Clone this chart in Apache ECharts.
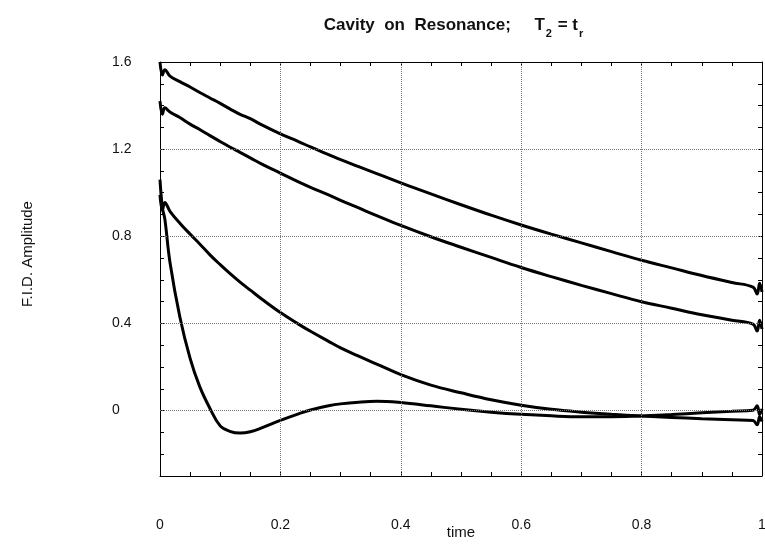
<!DOCTYPE html>
<html>
<head>
<meta charset="utf-8">
<script src="https://cdn.jsdelivr.net/npm/echarts@6/dist/echarts.min.js"></script>
<style>
html,body{margin:0;padding:0;background:#fff;overflow:hidden;}
#chart{width:765px;height:546px;}
</style>
</head>
<body>
<div id="chart"></div>
<script>
// ---- data ----
const times = [0, 0.004, 0.008, 0.0166, 0.033, 0.05, 0.066, 0.083, 0.1, 0.116, 0.133, 0.15, 0.17, 0.2, 0.23, 0.25, 0.28, 0.3, 0.33, 0.36, 0.4, 0.45, 0.5, 0.55, 0.6, 0.65, 0.7, 0.75, 0.8, 0.85, 0.9, 0.95, 0.985, 0.992, 0.996, 1.0];
const curveA = [1.60, 1.54, 1.565, 1.535, 1.51, 1.485, 1.46, 1.435, 1.41, 1.385, 1.36, 1.34, 1.31, 1.27, 1.235, 1.21, 1.175, 1.152, 1.12, 1.088, 1.045, 0.995, 0.945, 0.897, 0.852, 0.81, 0.77, 0.73, 0.69, 0.655, 0.62, 0.588, 0.567, 0.535, 0.585, 0.545];
const curveB = [1.42, 1.36, 1.39, 1.37, 1.345, 1.315, 1.29, 1.262, 1.235, 1.21, 1.185, 1.16, 1.13, 1.09, 1.05, 1.025, 0.99, 0.965, 0.93, 0.895, 0.85, 0.798, 0.75, 0.703, 0.657, 0.615, 0.575, 0.537, 0.50, 0.47, 0.44, 0.415, 0.397, 0.365, 0.415, 0.375];
const curveC = [0.99, 0.92, 0.955, 0.915, 0.86, 0.81, 0.765, 0.715, 0.67, 0.63, 0.59, 0.553, 0.51, 0.45, 0.397, 0.364, 0.318, 0.288, 0.25, 0.214, 0.165, 0.117, 0.082, 0.05, 0.025, 0.006, -0.007, -0.017, -0.025, -0.031, -0.037, -0.042, -0.045, -0.065, -0.028, -0.05];
const curveD = [1.06, 0.93, 0.88, 0.68, 0.43, 0.24, 0.11, 0.01, -0.07, -0.095, -0.103, -0.097, -0.078, -0.045, -0.015, 0.003, 0.022, 0.031, 0.039, 0.043, 0.037, 0.022, 0.006, -0.007, -0.017, -0.024, -0.028, -0.028, -0.025, -0.018, -0.01, -0.003, 0.002, 0.022, -0.018, 0.008];
const xTickLabels = ['0', '0.2', '0.4', '0.6', '0.8', '1'];
const yTickLabels = ['0', '0.4', '0.8', '1.2', '1.6'];
const xGridLines = [0.2, 0.4, 0.6, 0.8];
const yGridLines = [0, 0.4, 0.8, 1.2];

const chart = echarts.init(document.getElementById('chart'), null, { width: 765, height: 546 });
const FONT = 'Liberation Sans, Arial, Helvetica, sans-serif';

function xFmt(v) {
  const k = Math.round(v / 0.2);
  if (Math.abs(v - k * 0.2) < 1e-6 && k >= 0 && k < xTickLabels.length) return xTickLabels[k];
  return '';
}
function yFmt(v) {
  const k = Math.round(v / 0.4);
  if (Math.abs(v - k * 0.4) < 1e-6 && k >= 0 && k < yTickLabels.length) return yTickLabels[k];
  return '';
}

const lineStyle = { color: '#000', width: 3 };
function mk(vals) { return times.map((t, i) => [t, vals[i]]); }

const gridMarks = [];
xGridLines.forEach(v => gridMarks.push({ xAxis: v }));
yGridLines.forEach(v => gridMarks.push({ yAxis: v }));

const axLine = { show: true, onZero: false, lineStyle: { color: '#000', width: 1 } };
const axTick = { show: true, inside: true, length: 4, lineStyle: { color: '#000' } };

chart.setOption({
  animation: false,
  backgroundColor: '#fff',
  title: {
    text: '{a|Cavity  on  Resonance;     T}{s|2}{a| = t}{s|r}',
    left: 449, top: 12, textAlign: 'center',
    textStyle: {
      rich: {
        a: { fontFamily: FONT, fontSize: 17, fontWeight: 'bold', color: '#111', lineHeight: 24, verticalAlign: 'top' },
        s: { fontFamily: FONT, fontSize: 11, fontWeight: 'bold', color: '#111', lineHeight: 24, verticalAlign: 'top', padding: [11, 1, 0, 1] }
      }
    }
  },
  grid: { left: 160, top: 62, width: 602, height: 414, containLabel: false, outerBoundsMode: 'none' },
  xAxis: [{
    type: 'value', min: 0, max: 1, interval: 0.05, position: 'bottom',
    name: 'time', nameLocation: 'middle', nameGap: 49, nameMoveOverlap: false,
    nameTextStyle: { fontFamily: FONT, fontSize: 15, color: '#111' },
    axisLine: axLine, axisTick: axTick,
    axisLabel: { formatter: xFmt, margin: 42, fontFamily: FONT, fontSize: 14, color: '#111', showMinLabel: true, showMaxLabel: true, hideOverlap: false },
    splitLine: { show: false }
  }, {
    type: 'value', min: 0, max: 1, interval: 0.05, position: 'top',
    axisLine: axLine, axisTick: axTick,
    axisLabel: { show: false }, splitLine: { show: false }
  }],
  yAxis: [{
    type: 'value', min: -0.3, max: 1.6, interval: 0.1, position: 'left',
    name: 'F.I.D. Amplitude', nameLocation: 'middle', nameGap: 125, nameRotate: 90, nameMoveOverlap: false,
    nameTextStyle: { fontFamily: FONT, fontSize: 15, color: '#111', padding: [0, 0, 0, 30] },
    axisLine: axLine, axisTick: axTick,
    axisLabel: { formatter: yFmt, margin: 48, align: 'left', fontFamily: FONT, fontSize: 14, color: '#111', showMinLabel: true, showMaxLabel: true, hideOverlap: false },
    splitLine: { show: false }
  }, {
    type: 'value', min: -0.3, max: 1.6, interval: 0.1, position: 'right',
    axisLine: axLine, axisTick: axTick,
    axisLabel: { show: false }, splitLine: { show: false }
  }],
  series: [
    {
      type: 'line', data: [], silent: true,
      markLine: { silent: true, symbol: ['none', 'none'], label: { show: false },
        lineStyle: { color: '#777', type: 'dotted', width: 1 }, data: gridMarks, animation: false }
    },
    { type: 'line', data: mk(curveA), showSymbol: false, smooth: 0.4, lineStyle: lineStyle, z: 3 },
    { type: 'line', data: mk(curveB), showSymbol: false, smooth: 0.4, lineStyle: lineStyle, z: 3 },
    { type: 'line', data: mk(curveC), showSymbol: false, smooth: 0.4, lineStyle: lineStyle, z: 3 },
    { type: 'line', data: mk(curveD), showSymbol: false, smooth: 0.4, lineStyle: lineStyle, z: 3 }
  ]
});
</script>
</body>
</html>
